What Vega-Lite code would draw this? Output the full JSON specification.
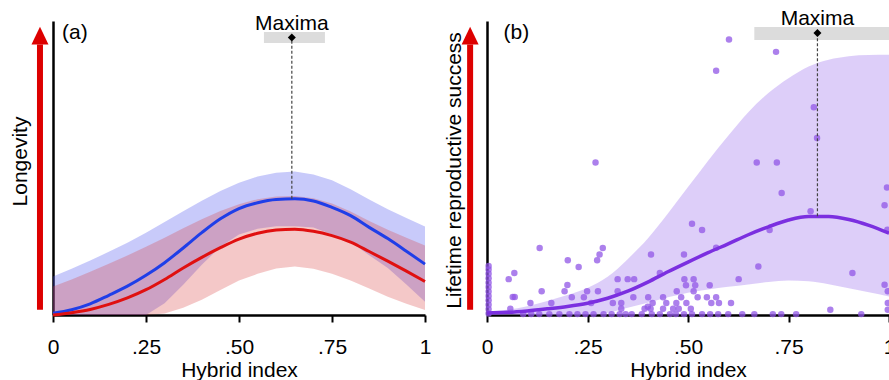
{
  "$schema": "https://vega.github.io/schema/vega-lite/v6.json",
  "background": "white",
  "padding": {"left": 9, "top": 8, "right": 0, "bottom": 0},
  "config": {
    "view": {"stroke": null},
    "font": "Liberation Sans",
    "text": {"font": "Liberation Sans", "fontSize": 21, "color": "black"},
    "axis": {"grid": false, "domainColor": "black", "domainWidth": 2.5, "labelFont": "Liberation Sans", "titleFont": "Liberation Sans", "titleFontWeight": "normal", "titleColor": "black", "labelColor": "black"}
  },
  "datasets": {
    "left": [
      {"x": 0.0, "blue": 0.006, "blueLow": 0.0, "blueHigh": 0.131, "red": 0.0, "redLow": 0.0, "redHigh": 0.097},
      {"x": 0.05, "blue": 0.018, "blueLow": 0.0, "blueHigh": 0.157, "red": 0.008, "redLow": 0.0, "redHigh": 0.121},
      {"x": 0.1, "blue": 0.038, "blueLow": 0.0, "blueHigh": 0.185, "red": 0.019, "redLow": 0.0, "redHigh": 0.147},
      {"x": 0.15, "blue": 0.067, "blueLow": 0.0, "blueHigh": 0.215, "red": 0.036, "redLow": 0.0, "redHigh": 0.174},
      {"x": 0.2, "blue": 0.098, "blueLow": 0.0, "blueHigh": 0.246, "red": 0.058, "redLow": 0.0, "redHigh": 0.202},
      {"x": 0.25, "blue": 0.135, "blueLow": 0.0, "blueHigh": 0.28, "red": 0.086, "redLow": 0.0, "redHigh": 0.232},
      {"x": 0.3, "blue": 0.178, "blueLow": 0.04, "blueHigh": 0.316, "red": 0.121, "redLow": 0.005, "redHigh": 0.263},
      {"x": 0.35, "blue": 0.228, "blueLow": 0.103, "blueHigh": 0.353, "red": 0.16, "redLow": 0.025, "redHigh": 0.295},
      {"x": 0.4, "blue": 0.28, "blueLow": 0.171, "blueHigh": 0.389, "red": 0.196, "redLow": 0.052, "redHigh": 0.326},
      {"x": 0.45, "blue": 0.327, "blueLow": 0.232, "blueHigh": 0.422, "red": 0.229, "redLow": 0.085, "redHigh": 0.354},
      {"x": 0.5, "blue": 0.362, "blueLow": 0.274, "blueHigh": 0.45, "red": 0.258, "redLow": 0.117, "redHigh": 0.377},
      {"x": 0.55, "blue": 0.382, "blueLow": 0.293, "blueHigh": 0.471, "red": 0.278, "redLow": 0.14, "redHigh": 0.394},
      {"x": 0.6, "blue": 0.393, "blueLow": 0.302, "blueHigh": 0.484, "red": 0.289, "redLow": 0.158, "redHigh": 0.403},
      {"x": 0.65, "blue": 0.395, "blueLow": 0.302, "blueHigh": 0.488, "red": 0.292, "redLow": 0.165, "redHigh": 0.405},
      {"x": 0.7, "blue": 0.388, "blueLow": 0.298, "blueHigh": 0.478, "red": 0.285, "redLow": 0.157, "redHigh": 0.397},
      {"x": 0.75, "blue": 0.366, "blueLow": 0.274, "blueHigh": 0.458, "red": 0.27, "redLow": 0.14, "redHigh": 0.379},
      {"x": 0.8, "blue": 0.338, "blueLow": 0.248, "blueHigh": 0.428, "red": 0.248, "redLow": 0.117, "redHigh": 0.352},
      {"x": 0.85, "blue": 0.298, "blueLow": 0.203, "blueHigh": 0.393, "red": 0.216, "redLow": 0.09, "redHigh": 0.32},
      {"x": 0.9, "blue": 0.26, "blueLow": 0.16, "blueHigh": 0.36, "red": 0.183, "redLow": 0.062, "redHigh": 0.29},
      {"x": 0.95, "blue": 0.217, "blueLow": 0.104, "blueHigh": 0.33, "red": 0.149, "redLow": 0.038, "redHigh": 0.263},
      {"x": 1.0, "blue": 0.173, "blueLow": 0.045, "blueHigh": 0.301, "red": 0.114, "redLow": 0.017, "redHigh": 0.236}
    ],
    "right": [
      {"x": 0.0, "fit": 0.007, "low": 0.0, "high": 0.012},
      {"x": 0.05, "fit": 0.009, "low": 0.0, "high": 0.018},
      {"x": 0.1, "fit": 0.014, "low": 0.0, "high": 0.03},
      {"x": 0.15, "fit": 0.021, "low": 0.0, "high": 0.048},
      {"x": 0.2, "fit": 0.029, "low": 0.0, "high": 0.068},
      {"x": 0.25, "fit": 0.04, "low": 0.0, "high": 0.092},
      {"x": 0.3, "fit": 0.057, "low": 0.008, "high": 0.13},
      {"x": 0.35, "fit": 0.081, "low": 0.025, "high": 0.19},
      {"x": 0.4, "fit": 0.112, "low": 0.042, "high": 0.26},
      {"x": 0.45, "fit": 0.147, "low": 0.06, "high": 0.345},
      {"x": 0.5, "fit": 0.18, "low": 0.076, "high": 0.435},
      {"x": 0.55, "fit": 0.212, "low": 0.087, "high": 0.525},
      {"x": 0.6, "fit": 0.242, "low": 0.096, "high": 0.61},
      {"x": 0.65, "fit": 0.273, "low": 0.104, "high": 0.69},
      {"x": 0.7, "fit": 0.3, "low": 0.112, "high": 0.755},
      {"x": 0.75, "fit": 0.323, "low": 0.117, "high": 0.805},
      {"x": 0.8, "fit": 0.335, "low": 0.115, "high": 0.845},
      {"x": 0.85, "fit": 0.335, "low": 0.105, "high": 0.868},
      {"x": 0.9, "fit": 0.325, "low": 0.091, "high": 0.88},
      {"x": 0.95, "fit": 0.305, "low": 0.077, "high": 0.884},
      {"x": 1.0, "fit": 0.278, "low": 0.063, "high": 0.885}
    ],
    "points": [
      {"x": 0.602, "y": 0.937}, {"x": 0.719, "y": 0.895}, {"x": 0.57, "y": 0.831}, {"x": 0.813, "y": 0.707},
      {"x": 0.821, "y": 0.602}, {"x": 0.27, "y": 0.519}, {"x": 0.671, "y": 0.519}, {"x": 0.721, "y": 0.519},
      {"x": 0.733, "y": 0.415}, {"x": 0.805, "y": 0.353}, {"x": 0.51, "y": 0.31}, {"x": 0.535, "y": 0.289},
      {"x": 0.703, "y": 0.289}, {"x": 0.995, "y": 0.434}, {"x": 0.989, "y": 0.373}, {"x": 0.996, "y": 0.29},
      {"x": 0.131, "y": 0.228}, {"x": 0.201, "y": 0.186}, {"x": 0.228, "y": 0.163}, {"x": 0.288, "y": 0.228},
      {"x": 0.28, "y": 0.206}, {"x": 0.274, "y": 0.186}, {"x": 0.408, "y": 0.206}, {"x": 0.49, "y": 0.206},
      {"x": 0.57, "y": 0.229}, {"x": 0.675, "y": 0.165}, {"x": 0.909, "y": 0.143}, {"x": 0.989, "y": 0.103},
      {"x": 0.997, "y": 0.081}, {"x": 0.626, "y": 0.122}, {"x": 0.43, "y": 0.143}, {"x": 0.325, "y": 0.122},
      {"x": 0.35, "y": 0.122}, {"x": 0.366, "y": 0.122}, {"x": 0.491, "y": 0.122}, {"x": 0.514, "y": 0.122},
      {"x": 0.495, "y": 0.101}, {"x": 0.518, "y": 0.101}, {"x": 0.554, "y": 0.101}, {"x": 0.514, "y": 0.081},
      {"x": 0.472, "y": 0.081}, {"x": 0.068, "y": 0.143}, {"x": 0.054, "y": 0.122}, {"x": 0.2, "y": 0.102},
      {"x": 0.193, "y": 0.081}, {"x": 0.136, "y": 0.081}, {"x": 0.064, "y": 0.061}, {"x": 0.069, "y": 0.061},
      {"x": 0.211, "y": 0.06}, {"x": 0.241, "y": 0.06}, {"x": 0.249, "y": 0.081}, {"x": 0.276, "y": 0.081},
      {"x": 0.325, "y": 0.081}, {"x": 0.364, "y": 0.06}, {"x": 0.401, "y": 0.06}, {"x": 0.438, "y": 0.06},
      {"x": 0.483, "y": 0.06}, {"x": 0.524, "y": 0.06}, {"x": 0.547, "y": 0.06}, {"x": 0.57, "y": 0.06},
      {"x": 0.108, "y": 0.041}, {"x": 0.16, "y": 0.041}, {"x": 0.259, "y": 0.041}, {"x": 0.313, "y": 0.041},
      {"x": 0.334, "y": 0.041}, {"x": 0.412, "y": 0.041}, {"x": 0.446, "y": 0.041}, {"x": 0.471, "y": 0.041},
      {"x": 0.496, "y": 0.041}, {"x": 0.558, "y": 0.041}, {"x": 0.577, "y": 0.041}, {"x": 0.607, "y": 0.041},
      {"x": 0.997, "y": 0.041}, {"x": 0.058, "y": 0.021}, {"x": 0.334, "y": 0.021}, {"x": 0.392, "y": 0.021},
      {"x": 0.4, "y": 0.028}, {"x": 0.407, "y": 0.021}, {"x": 0.438, "y": 0.021}, {"x": 0.463, "y": 0.021},
      {"x": 0.477, "y": 0.021}, {"x": 0.507, "y": 0.021}, {"x": 0.854, "y": 0.018}, {"x": 0.997, "y": 0.018},
      {"x": 0.09, "y": 0.003}, {"x": 0.11, "y": 0.003}, {"x": 0.13, "y": 0.003}, {"x": 0.155, "y": 0.003},
      {"x": 0.18, "y": 0.003}, {"x": 0.205, "y": 0.003}, {"x": 0.225, "y": 0.003}, {"x": 0.245, "y": 0.003},
      {"x": 0.265, "y": 0.003}, {"x": 0.29, "y": 0.003}, {"x": 0.31, "y": 0.003}, {"x": 0.33, "y": 0.003},
      {"x": 0.345, "y": 0.003}, {"x": 0.36, "y": 0.003}, {"x": 0.385, "y": 0.003}, {"x": 0.41, "y": 0.003},
      {"x": 0.43, "y": 0.003}, {"x": 0.455, "y": 0.003}, {"x": 0.47, "y": 0.003}, {"x": 0.49, "y": 0.003},
      {"x": 0.51, "y": 0.003}, {"x": 0.535, "y": 0.003}, {"x": 0.555, "y": 0.003}, {"x": 0.575, "y": 0.003},
      {"x": 0.6, "y": 0.003}, {"x": 0.635, "y": 0.003}, {"x": 0.665, "y": 0.003}, {"x": 0.711, "y": 0.003},
      {"x": 0.732, "y": 0.003}, {"x": 0.769, "y": 0.003}, {"x": 0.931, "y": 0.003},
      {"x": 0.004, "y": 0.005}, {"x": 0.004, "y": 0.02}, {"x": 0.004, "y": 0.035}, {"x": 0.004, "y": 0.05},
      {"x": 0.004, "y": 0.065}, {"x": 0.004, "y": 0.08}, {"x": 0.004, "y": 0.095}, {"x": 0.004, "y": 0.11},
      {"x": 0.004, "y": 0.125}, {"x": 0.004, "y": 0.14}, {"x": 0.004, "y": 0.155}, {"x": 0.004, "y": 0.167}
    ],
    "maxima": [
      {"panel": "a", "hx": 0.642, "lo": 0.567, "hi": 0.731, "peak": 0.395},
      {"panel": "b", "hx": 0.822, "lo": 0.665, "hi": 1.0, "peak": 0.336}
    ]
  },
  "bounds": "flush",
  "spacing": 62,
  "hconcat": [
    {
      "width": 372,
      "height": 294,
      "layer": [
        {
          "data": {"name": "left"},
          "mark": {"type": "area", "color": "#4a4ef0", "opacity": 0.3},
          "encoding": {
            "x": {"field": "x", "type": "quantitative", "scale": {"domain": [0, 1], "nice": false},
              "axis": {"values": [0, 0.25, 0.5, 0.75, 1], "labelExpr": "datum.value == 0 ? '0' : datum.value == 1 ? '1' : replace(format(datum.value, '.2f'), '0.', '.')", "tickColor": "black", "tickWidth": 2, "tickSize": 7, "labelFontSize": 21, "labelPadding": 14, "labelFlush": false, "labelOverlap": false, "title": "Hybrid index", "titleFontSize": 21, "titlePadding": 2}},
            "y": {"field": "blueLow", "type": "quantitative", "scale": {"domain": [0, 1], "nice": false},
              "axis": {"title": "Longevity", "ticks": false, "labels": false, "titleFontSize": 21, "titlePadding": 23, "titleY": 140}},
            "y2": {"field": "blueHigh"}
          }
        },
        {
          "data": {"name": "left"},
          "mark": {"type": "area", "color": "#d83a3a", "opacity": 0.28},
          "encoding": {
            "x": {"field": "x", "type": "quantitative", "scale": {"domain": [0, 1]}},
            "y": {"field": "redLow", "type": "quantitative", "scale": {"domain": [0, 1]}},
            "y2": {"field": "redHigh"}
          }
        },
        {
          "data": {"name": "left"},
          "mark": {"type": "line", "color": "#1f3ee8", "strokeWidth": 3, "interpolate": "monotone"},
          "encoding": {
            "x": {"field": "x", "type": "quantitative", "scale": {"domain": [0, 1]}},
            "y": {"field": "blue", "type": "quantitative", "scale": {"domain": [0, 1]}}
          }
        },
        {
          "data": {"name": "left"},
          "mark": {"type": "line", "color": "#e01010", "strokeWidth": 3, "interpolate": "monotone"},
          "encoding": {
            "x": {"field": "x", "type": "quantitative", "scale": {"domain": [0, 1]}},
            "y": {"field": "red", "type": "quantitative", "scale": {"domain": [0, 1]}}
          }
        },
        {
          "data": {"name": "maxima"},
          "transform": [{"filter": "datum.panel == 'a'"}],
          "mark": {"type": "rect", "color": "#dcdcdc"},
          "encoding": {
            "x": {"field": "lo", "type": "quantitative", "scale": {"domain": [0, 1]}},
            "x2": {"field": "hi"},
            "y": {"datum": 0.925, "type": "quantitative", "scale": {"domain": [0, 1]}},
            "y2": {"datum": 0.963}
          }
        },
        {
          "data": {"name": "maxima"},
          "transform": [{"filter": "datum.panel == 'a'"}],
          "mark": {"type": "rule", "color": "#444444", "strokeWidth": 1.2, "strokeDash": [3, 2]},
          "encoding": {
            "x": {"field": "hx", "type": "quantitative", "scale": {"domain": [0, 1]}},
            "y": {"field": "peak", "type": "quantitative", "scale": {"domain": [0, 1]}},
            "y2": {"datum": 0.944}
          }
        },
        {
          "data": {"name": "maxima"},
          "transform": [{"filter": "datum.panel == 'a'"}],
          "mark": {"type": "point", "shape": "diamond", "filled": true, "color": "black", "opacity": 1, "size": 64},
          "encoding": {
            "x": {"field": "hx", "type": "quantitative", "scale": {"domain": [0, 1]}},
            "y": {"datum": 0.944, "type": "quantitative", "scale": {"domain": [0, 1]}}
          }
        },
        {
          "data": {"name": "maxima"},
          "transform": [{"filter": "datum.panel == 'a'"}],
          "mark": {"type": "text", "text": "Maxima", "fontSize": 21, "align": "center", "baseline": "alphabetic"},
          "encoding": {
            "x": {"field": "hx", "type": "quantitative", "scale": {"domain": [0, 1]}},
            "y": {"datum": 0.969, "type": "quantitative", "scale": {"domain": [0, 1]}}
          }
        },
        {
          "data": {"values": [{}]},
          "mark": {"type": "text", "text": "(a)", "fontSize": 21, "align": "center", "baseline": "middle"},
          "encoding": {
            "x": {"datum": 0.059, "type": "quantitative", "scale": {"domain": [0, 1]}},
            "y": {"datum": 0.959, "type": "quantitative", "scale": {"domain": [0, 1]}}
          }
        },
        {
          "data": {"values": [{}]},
          "mark": {"type": "rule", "color": "#dd0000", "strokeWidth": 6, "strokeCap": "butt"},
          "encoding": {
            "x": {"datum": -0.035, "type": "quantitative", "scale": {"domain": [0, 1]}},
            "y": {"datum": 0.018, "type": "quantitative", "scale": {"domain": [0, 1]}},
            "y2": {"datum": 0.92}
          }
        },
        {
          "data": {"values": [{}]},
          "mark": {"type": "point", "shape": "M0,-1.1L1,1L-1,1Z", "filled": true, "color": "#dd0000", "opacity": 1, "size": 289},
          "encoding": {
            "x": {"datum": -0.035, "type": "quantitative", "scale": {"domain": [0, 1]}},
            "y": {"datum": 0.949, "type": "quantitative", "scale": {"domain": [0, 1]}}
          }
        }
      ]
    },
    {
      "width": 402,
      "height": 294,
      "layer": [
        {
          "data": {"name": "right"},
          "mark": {"type": "area", "color": "#a57df0", "opacity": 0.38, "interpolate": "monotone"},
          "encoding": {
            "x": {"field": "x", "type": "quantitative", "scale": {"domain": [0, 1], "nice": false},
              "axis": {"values": [0, 0.25, 0.5, 0.75, 1], "labelExpr": "datum.value == 0 ? '0' : datum.value == 1 ? '1' : replace(format(datum.value, '.2f'), '0.', '.')", "tickColor": "black", "tickWidth": 2, "tickSize": 7, "labelFontSize": 21, "labelPadding": 14, "labelFlush": false, "labelOverlap": false, "title": "Hybrid index", "titleFontSize": 21, "titlePadding": 2}},
            "y": {"field": "low", "type": "quantitative", "scale": {"domain": [0, 1], "nice": false},
              "axis": {"title": "Lifetime reproductive success", "ticks": false, "labels": false, "titleFontSize": 21, "titlePadding": 23, "titleY": 149}},
            "y2": {"field": "high"}
          }
        },
        {
          "data": {"name": "points"},
          "mark": {"type": "circle", "color": "#9056e6", "opacity": 0.75, "size": 42},
          "encoding": {
            "x": {"field": "x", "type": "quantitative", "scale": {"domain": [0, 1]}},
            "y": {"field": "y", "type": "quantitative", "scale": {"domain": [0, 1]}}
          }
        },
        {
          "data": {"name": "right"},
          "mark": {"type": "line", "color": "#7b2fe0", "strokeWidth": 3.5, "interpolate": "monotone"},
          "encoding": {
            "x": {"field": "x", "type": "quantitative", "scale": {"domain": [0, 1]}},
            "y": {"field": "fit", "type": "quantitative", "scale": {"domain": [0, 1]}}
          }
        },
        {
          "data": {"name": "maxima"},
          "transform": [{"filter": "datum.panel == 'b'"}],
          "mark": {"type": "rect", "color": "#dcdcdc"},
          "encoding": {
            "x": {"field": "lo", "type": "quantitative", "scale": {"domain": [0, 1]}},
            "x2": {"field": "hi"},
            "y": {"datum": 0.935, "type": "quantitative", "scale": {"domain": [0, 1]}},
            "y2": {"datum": 0.98}
          }
        },
        {
          "data": {"name": "maxima"},
          "transform": [{"filter": "datum.panel == 'b'"}],
          "mark": {"type": "rule", "color": "#444444", "strokeWidth": 1.2, "strokeDash": [3, 2]},
          "encoding": {
            "x": {"field": "hx", "type": "quantitative", "scale": {"domain": [0, 1]}},
            "y": {"field": "peak", "type": "quantitative", "scale": {"domain": [0, 1]}},
            "y2": {"datum": 0.959}
          }
        },
        {
          "data": {"name": "maxima"},
          "transform": [{"filter": "datum.panel == 'b'"}],
          "mark": {"type": "point", "shape": "diamond", "filled": true, "color": "black", "opacity": 1, "size": 64},
          "encoding": {
            "x": {"field": "hx", "type": "quantitative", "scale": {"domain": [0, 1]}},
            "y": {"datum": 0.959, "type": "quantitative", "scale": {"domain": [0, 1]}}
          }
        },
        {
          "data": {"name": "maxima"},
          "transform": [{"filter": "datum.panel == 'b'"}],
          "mark": {"type": "text", "text": "Maxima", "fontSize": 21, "align": "center", "baseline": "alphabetic"},
          "encoding": {
            "x": {"field": "hx", "type": "quantitative", "scale": {"domain": [0, 1]}},
            "y": {"datum": 0.986, "type": "quantitative", "scale": {"domain": [0, 1]}}
          }
        },
        {
          "data": {"values": [{}]},
          "mark": {"type": "text", "text": "(b)", "fontSize": 21, "align": "center", "baseline": "middle"},
          "encoding": {
            "x": {"datum": 0.073, "type": "quantitative", "scale": {"domain": [0, 1]}},
            "y": {"datum": 0.959, "type": "quantitative", "scale": {"domain": [0, 1]}}
          }
        },
        {
          "data": {"values": [{}]},
          "mark": {"type": "rule", "color": "#dd0000", "strokeWidth": 6, "strokeCap": "butt"},
          "encoding": {
            "x": {"datum": -0.042, "type": "quantitative", "scale": {"domain": [0, 1]}},
            "y": {"datum": 0.018, "type": "quantitative", "scale": {"domain": [0, 1]}},
            "y2": {"datum": 0.92}
          }
        },
        {
          "data": {"values": [{}]},
          "mark": {"type": "point", "shape": "M0,-1.1L1,1L-1,1Z", "filled": true, "color": "#dd0000", "opacity": 1, "size": 289},
          "encoding": {
            "x": {"datum": -0.042, "type": "quantitative", "scale": {"domain": [0, 1]}},
            "y": {"datum": 0.949, "type": "quantitative", "scale": {"domain": [0, 1]}}
          }
        }
      ]
    }
  ]
}
